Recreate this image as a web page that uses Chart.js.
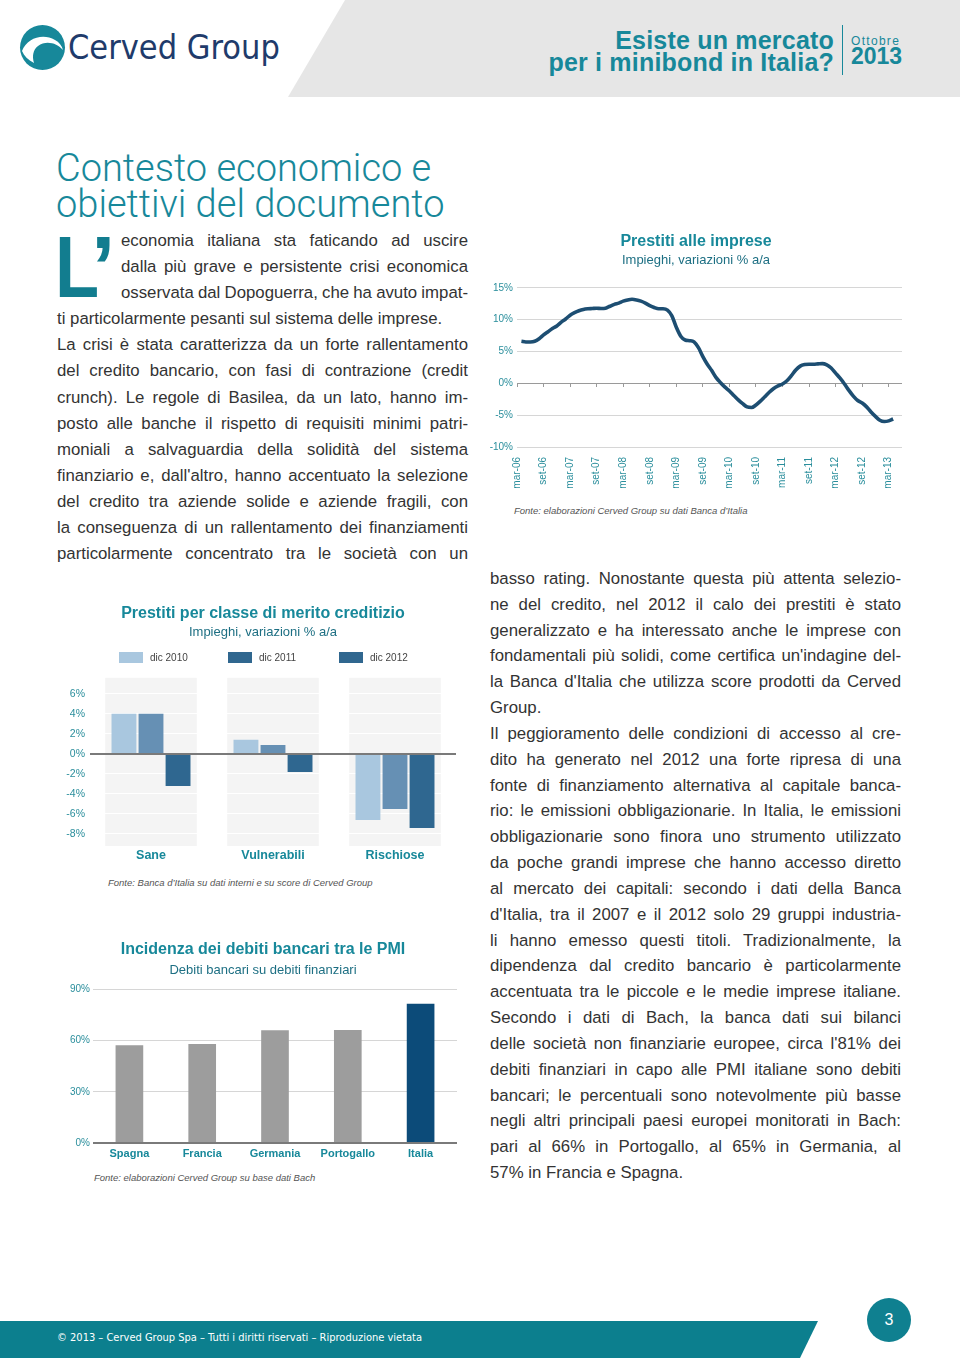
<!DOCTYPE html>
<html lang="it">
<head>
<meta charset="utf-8">
<title>Esiste un mercato per i minibond in Italia? – Cerved Group</title>
<script src="https://cdn.jsdelivr.net/npm/chart.js@4.4.0/dist/chart.umd.min.js"></script>
<style>
  html, body { margin: 0; padding: 0; }
  body {
    width: 960px; height: 1358px; position: relative; overflow: hidden;
    background: #fff; color: #333;
    font-family: 'Liberation Sans', Arial, sans-serif;
  }
  .abs { position: absolute; }
  #band {
    left: 0; top: 0; width: 960px; height: 97px; background: #e6e6e6;
    clip-path: polygon(345px 0, 960px 0, 960px 97px, 288px 97px);
  }
  #brand { left: 68px; top: 25px; font-family: 'DejaVu Sans Condensed', 'Liberation Sans', sans-serif;
    font-size: 34px; line-height: 44px; color: #1f3b6b; }
  #doc-title { right: 126px; top: 29px; text-align: right; font-weight: bold; font-size: 25px;
    line-height: 22px; color: #17889a; letter-spacing: 0.2px; }
  #doc-rule { left: 842px; top: 25px; width: 1px; height: 50px; background: #17889a; }
  #doc-month { left: 851px; top: 34px; font-size: 12px; letter-spacing: 1.3px; color: #17889a; }
  #doc-year { left: 851px; top: 44px; font-size: 23px; font-weight: bold; color: #17889a; line-height: 24px; }
  #heading { left: 56px; top: 150px; font-family: Roboto, 'Liberation Sans', sans-serif; font-weight: 300;
    font-size: 38px; line-height: 36px; color: #17889a; }
  #dropcap { left: 55px; top: 223px; font-size: 88px; line-height: 88px; font-weight: bold; color: #127d8f;
    transform: scaleX(0.82); transform-origin: left top; }
  #dropquote { left: 91px; top: 223px; font-size: 88px; line-height: 88px; font-weight: bold; color: #127d8f; }
  .col { position: absolute; width: 411px; font-size: 16.8px; color: #333; }
  .col div { text-align: justify; text-align-last: justify; word-spacing: -3px; }
  .col div.last { text-align-last: left; word-spacing: 0; }
  .col div.ind { margin-left: 64px; }
  #col-left { left: 57px; top: 228px; line-height: 26.1px; }
  #col-right { left: 490px; top: 566px; line-height: 25.83px; }
  .chart-box { position: absolute; }
  .source { position: absolute; font-size: 9.5px; font-style: italic; color: #555; white-space: nowrap; }
  .legend-item { position: absolute; font-size: 10px; color: #444; }
  .legend-item span { position: absolute; top: 0; width: 24px; height: 11px; }
  #footer-band { left: 0; top: 1321px; width: 960px; height: 37px; background: #0c7f8e;
    clip-path: polygon(0 0, 818px 0, 800px 37px, 0 37px); }
  #footer-text { left: 57px; top: 1331px; font-family: 'DejaVu Sans Condensed', 'Liberation Sans', sans-serif;
    font-size: 11px; color: #fff; }
  #page-no { left: 867px; top: 1298px; width: 44px; height: 44px; border-radius: 50%; background: #0f8090;
    color: #fff; font-size: 16px; line-height: 44px; text-align: center; }
</style>
</head>
<body>

<div id="band" class="abs"></div>
<svg class="abs" style="left:19px;top:24px" width="47" height="47" viewBox="0 0 47 47">
  <circle cx="23.5" cy="23.5" r="22.5" fill="#17889a"/>
  <path d="M3,27 C8,14 24,9 36,16 C40,18 43,22 44,26 C38,19 27,16 19,22 C14,26 13,32 15,39 C9,36 5,32 3,27 Z" fill="#fff"/>
</svg>
<div id="brand" class="abs">Cerved Group</div>
<div id="doc-title" class="abs">Esiste un mercato<br>per i minibond in Italia?</div>
<div id="doc-rule" class="abs"></div>
<div id="doc-month" class="abs">Ottobre</div>
<div id="doc-year" class="abs">2013</div>

<div id="heading" class="abs">Contesto economico e<br>obiettivi del documento</div>
<div id="dropcap" class="abs">L</div>
<div id="dropquote" class="abs">’</div>

<div id="col-left" class="col">
  <div class="ind">economia italiana sta faticando ad uscire</div>
  <div class="ind">dalla più grave e persistente crisi economica</div>
  <div class="ind">osservata dal Dopoguerra, che ha avuto impat-</div>
  <div class="last">ti particolarmente pesanti sul sistema delle imprese.</div>
  <div>La crisi è stata caratterizza da un forte rallentamento</div>
  <div>del credito bancario, con fasi di contrazione (credit</div>
  <div>crunch). Le regole di Basilea, da un lato, hanno im-</div>
  <div>posto alle banche il rispetto di requisiti minimi patri-</div>
  <div>moniali a salvaguardia della solidità del sistema</div>
  <div>finanziario e, dall'altro, hanno accentuato la selezione</div>
  <div>del credito tra aziende solide e aziende fragili, con</div>
  <div>la conseguenza di un rallentamento dei finanziamenti</div>
  <div>particolarmente concentrato tra le società con un</div>
</div>

<div id="col-right" class="col">
  <div>basso rating. Nonostante questa più attenta selezio-</div>
  <div>ne del credito, nel 2012 il calo dei prestiti è stato</div>
  <div>generalizzato e ha interessato anche le imprese con</div>
  <div>fondamentali più solidi, come certifica un'indagine del-</div>
  <div>la Banca d'Italia che utilizza score prodotti da Cerved</div>
  <div class="last">Group.</div>
  <div>Il peggioramento delle condizioni di accesso al cre-</div>
  <div>dito ha generato nel 2012 una forte ripresa di una</div>
  <div>fonte di finanziamento alternativa al capitale banca-</div>
  <div>rio: le emissioni obbligazionarie. In Italia, le emissioni</div>
  <div>obbligazionarie sono finora uno strumento utilizzato</div>
  <div>da poche grandi imprese che hanno accesso diretto</div>
  <div>al mercato dei capitali: secondo i dati della Banca</div>
  <div>d'Italia, tra il 2007 e il 2012 solo 29 gruppi industria-</div>
  <div>li hanno emesso questi titoli. Tradizionalmente, la</div>
  <div>dipendenza dal credito bancario è particolarmente</div>
  <div>accentuata tra le piccole e le medie imprese italiane.</div>
  <div>Secondo i dati di Bach, la banca dati sui bilanci</div>
  <div>delle società non finanziarie europee, circa l'81% dei</div>
  <div>debiti finanziari in capo alle PMI italiane sono debiti</div>
  <div>bancari; le percentuali sono notevolmente più basse</div>
  <div>negli altri principali paesi europei monitorati in Bach:</div>
  <div>pari al 66% in Portogallo, al 65% in Germania, al</div>
  <div class="last">57% in Francia e Spagna.</div>
</div>

<div class="chart-box" style="left:480px;top:226px;width:432px;height:269px"><canvas id="loansChart"></canvas></div>
<div class="source" style="left:514px;top:505px">Fonte: elaborazioni Cerved Group su dati Banca d’Italia</div>

<div class="chart-box" style="left:55px;top:600px;width:416px;height:270px"><canvas id="meritChart"></canvas></div>
<div id="meritLegend"></div>
<div class="source" style="left:108px;top:877px">Fonte: Banca d’Italia su dati interni e su score di Cerved Group</div>

<div class="chart-box" style="left:55px;top:935px;width:416px;height:230px"><canvas id="debtChart"></canvas></div>
<div class="source" style="left:94px;top:1172px">Fonte: elaborazioni Cerved Group su base dati Bach</div>

<div id="footer-band" class="abs"></div>
<div id="footer-text" class="abs">© 2013 – Cerved Group Spa – Tutti i diritti riservati – Riproduzione vietata</div>
<div id="page-no" class="abs">3</div>

<script>
// Prestiti alle imprese: yoy % change, monthly from apr-06 to apr-13
const loanTickLabels = ['mar-06', 'set-06', 'mar-07', 'set-07', 'mar-08', 'set-08', 'mar-09', 'set-09',
    'mar-10', 'set-10', 'mar-11', 'set-11', 'mar-12', 'set-12', 'mar-13'];
const loanGrowth = [
    6.6, 6.5, 6.5, 6.6, 7.0, 7.6, 8.1, 8.6, 9.0, 9.6, 10.1, 10.7,      // apr-06 .. mar-07
    11.1, 11.4, 11.6, 11.7, 11.75, 11.8, 11.75, 11.8, 12.1, 12.4, 12.6, 12.9, // apr-07 .. mar-08
    13.1, 13.2, 13.1, 12.9, 12.6, 12.2, 11.9, 11.7, 11.7, 11.5, 10.6, 8.8,   // apr-08 .. mar-09
    7.4, 6.8, 6.7, 6.5, 5.6, 4.2, 3.0, 2.0, 0.9, 0.1, -0.6, -1.2,            // apr-09 .. mar-10
    -1.9, -2.6, -3.2, -3.7, -3.8, -3.4, -2.8, -2.1, -1.4, -0.8, -0.4, -0.1,  // apr-10 .. mar-11
    0.4, 1.2, 2.1, 2.7, 2.95, 3.0, 3.0, 3.05, 3.1, 2.9, 2.4, 1.6,            // apr-11 .. mar-12
    0.8, -0.1, -1.1, -2.0, -2.7, -3.1, -3.7, -4.5, -5.2, -5.8, -6.0, -5.9,   // apr-12 .. mar-13
    -5.6                                                                     // apr-13
];

// Prestiti per classe di merito creditizio
const meritClasses = ['Sane', 'Vulnerabili', 'Rischiose'];
const meritSeries = ['dic 2010', 'dic 2011', 'dic 2012'];
const meritDic2010 = [4.0, 1.4, -6.6];
const meritDic2011 = [4.0, 0.9, -5.5];
const meritDic2012 = [-3.2, -1.8, -7.4];

// Incidenza dei debiti bancari tra le PMI
const countries = ['Spagna', 'Francia', 'Germania', 'Portogallo', 'Italia'];
const bankDebtShare = [57.3, 57.9, 66.0, 66.2, 81.6];

/**
 * Colours
 */
const TEAL = '#17889a';
const TEAL_SUB = '#1d6f83';
const TICK_TEAL = '#2a8e9c';
const meritColors = ['#a9c7df', '#6690b4', '#2f6790'];
const meritLegendColors = ['#a9c7df', '#30678f', '#30678f'];
const debtColors = ['#9d9d9d', '#9d9d9d', '#9d9d9d', '#9d9d9d', '#0c4b79'];

Chart.defaults.font.family = "'Liberation Sans', Arial, sans-serif";
Chart.defaults.animation = false;
Chart.defaults.plugins.legend.display = false;
Chart.defaults.plugins.tooltip.enabled = false;

function titleBlock(text, padTop, padBottom) {
    return { display: true, text: text, color: TEAL, font: { size: 16, weight: 'bold' },
        padding: { top: padTop, bottom: padBottom } };
}

function subtitleBlock(text, padBottom) {
    return { display: true, text: text, color: TEAL_SUB, font: { size: 13 },
        padding: { top: 0, bottom: padBottom } };
}

// empty right-hand axis used as a spacer, so the title stays centred on the page column
function rightSpacer(width) {
    return {
        position: 'right', display: true,
        grid: { display: false, drawTicks: false },
        border: { display: false },
        ticks: { display: false },
        afterFit: s => { s.width = width; }
    };
}

/**
 * Line chart: Prestiti alle imprese
 */
new Chart(document.getElementById('loansChart'), {
    type: 'line',
    data: {
        datasets: [{
            data: loanGrowth.map((v, i) => ({ x: i + 1, y: v })),
            borderColor: '#1d4e72',
            borderWidth: 3.6,
            pointRadius: 0,
            tension: 0.4,
            cubicInterpolationMode: 'monotone',
            fill: false
        }]
    },
    options: {
        responsive: true,
        maintainAspectRatio: false,
        layout: { padding: { left: 10, right: 10 } },
        plugins: {
            title: titleBlock('Prestiti alle imprese', 6, 1),
            subtitle: subtitleBlock('Impieghi, variazioni % a/a', 20)
        },
        scales: {
            x: {
                type: 'linear', min: 0, max: 87,
                grid: { display: false, drawTicks: false },
                border: { display: false },
                afterFit: s => { s.height = 48; },
                ticks: {
                    stepSize: 6, maxTicksLimit: 20, includeBounds: false, autoSkip: false,
                    minRotation: 90, maxRotation: 90, padding: 10,
                    color: TICK_TEAL, font: { size: 10 },
                    callback: v => loanTickLabels[v / 6]
                }
            },
            xZero: {
                type: 'linear', position: { y: 0 }, min: 0, max: 87,
                border: { display: false },
                grid: { drawOnChartArea: false, tickLength: 4, color: '#9a9a9a' },
                ticks: { display: false, stepSize: 6, maxTicksLimit: 20, includeBounds: false }
            },
            y: {
                min: -10, max: 15,
                afterFit: s => { s.width = 27; },
                border: { display: false },
                grid: {
                    drawTicks: false,
                    color: c => c.tick.value === 0 ? '#9a9a9a' : '#d6d6d6'
                },
                ticks: { stepSize: 5, padding: 4, color: TICK_TEAL, font: { size: 10 }, callback: v => v + '%' }
            }
        }
    }
});

/**
 * Grouped bars: Prestiti per classe di merito creditizio
 */
const panelPlugin = {
    id: 'panels',
    beforeDraw(chart) {
        const { ctx, chartArea, scales: { x } } = chart;
        const half = x.width / meritClasses.length * 0.375;
        ctx.save();
        ctx.fillStyle = '#f4f4f4';
        meritClasses.forEach((c, i) => {
            const cx = x.getPixelForValue(i);
            ctx.fillRect(cx - half, chartArea.top, half * 2, chartArea.bottom - chartArea.top);
        });
        ctx.restore();
    }
};

new Chart(document.getElementById('meritChart'), {
    type: 'bar',
    data: {
        labels: meritClasses,
        datasets: [meritDic2010, meritDic2011, meritDic2012].map((values, i) => ({
            label: meritSeries[i],
            data: values,
            backgroundColor: meritColors[i],
            barPercentage: 0.92,
            categoryPercentage: 0.665
        }))
    },
    options: {
        responsive: true,
        maintainAspectRatio: false,
        plugins: {
            title: titleBlock('Prestiti per classe di merito creditizio', 4, 1),
            subtitle: subtitleBlock('Impieghi, variazioni % a/a', 38)
        },
        scales: {
            x: {
                grid: { display: false, drawTicks: false },
                border: { display: false },
                afterFit: s => { s.height = 24; },
                ticks: { padding: 2, color: TEAL, font: { size: 12.5, weight: 'bold' } }
            },
            y: {
                min: -9.2, max: 7.6,
                afterFit: s => { s.width = 35; },
                border: { display: false },
                grid: {
                    drawTicks: false,
                    color: c => c.tick.value === 0 ? '#7a7a7a' : '#ffffff',
                    lineWidth: c => c.tick.value === 0 ? 2 : 1
                },
                ticks: { stepSize: 2, includeBounds: false, padding: 5, color: TICK_TEAL,
                    font: { size: 10.5 }, callback: v => v + '%' }
            },
            spacer: rightSpacer(15)
        }
    },
    plugins: [panelPlugin]
});

// legend for the merit chart, placed like the original
const legendX = [119, 228, 339];
const legendBox = document.getElementById('meritLegend');
meritSeries.forEach((name, i) => {
    const item = document.createElement('div');
    item.className = 'legend-item';
    item.style.left = legendX[i] + 'px';
    item.style.top = '652px';
    item.innerHTML = '<span style="left:0;background:' + meritLegendColors[i] + '"></span>' +
        '<b style="font-weight:normal;position:absolute;left:31px;top:0;white-space:nowrap">' + name + '</b>';
    legendBox.appendChild(item);
});

/**
 * Bars: Incidenza dei debiti bancari tra le PMI
 */
new Chart(document.getElementById('debtChart'), {
    type: 'bar',
    data: {
        labels: countries,
        datasets: [{
            data: bankDebtShare,
            backgroundColor: debtColors,
            barPercentage: 0.38,
            categoryPercentage: 1
        }]
    },
    options: {
        responsive: true,
        maintainAspectRatio: false,
        plugins: {
            title: titleBlock('Incidenza dei debiti bancari tra le PMI', 5, 3),
            subtitle: subtitleBlock('Debiti bancari su debiti finanziari', 11.5)
        },
        scales: {
            x: {
                grid: { display: false, drawTicks: false },
                border: { display: false },
                afterFit: s => { s.height = 22; },
                ticks: { padding: 4, color: TEAL, font: { size: 11, weight: 'bold' } }
            },
            y: {
                min: 0, max: 90,
                afterFit: s => { s.width = 38; },
                border: { display: false },
                grid: {
                    drawTicks: false,
                    color: c => c.tick.value === 0 ? '#7a7a7a' : '#d6d6d6',
                    lineWidth: c => c.tick.value === 0 ? 2 : 1
                },
                ticks: { stepSize: 30, padding: 3, color: TICK_TEAL, font: { size: 10 }, callback: v => v + '%' }
            },
            spacer: rightSpacer(14)
        }
    }
});
</script>
</body>
</html>
